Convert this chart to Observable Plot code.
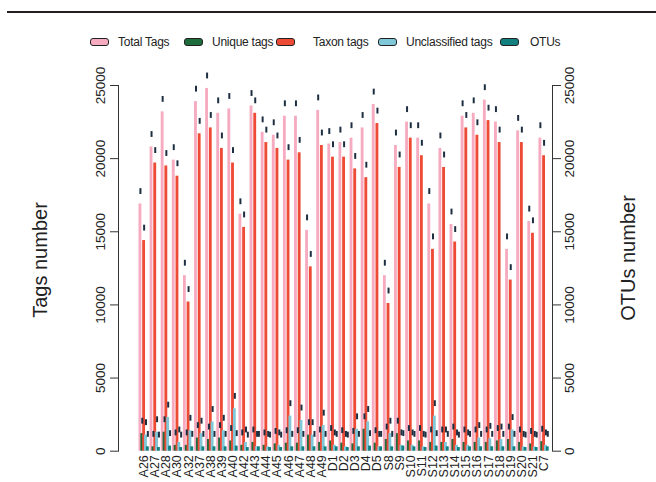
<!DOCTYPE html>
<html><head><meta charset="utf-8">
<script src="https://cdn.jsdelivr.net/npm/d3@7"></script>
<script src="https://cdn.jsdelivr.net/npm/@observablehq/plot@0.6"></script>
<style>
body{margin:0;background:#fff;font-family:"Liberation Sans",Arial,sans-serif;}
#wrap{position:relative;width:656px;height:482px;overflow:hidden;background:#fff;}
#chart{position:absolute;left:0;top:0;}
.toprule{position:absolute;left:7px;top:11px;width:649px;height:2px;background:#231f20;}
.leg{position:absolute;top:35px;height:14px;display:flex;align-items:center;font-size:12px;letter-spacing:-0.25px;color:#222;white-space:nowrap;}
.sw{position:absolute;top:38px;width:17px;height:6px;border:1.5px solid #222;border-radius:3px;}
.ytitle{position:absolute;font-size:20px;color:#222;white-space:nowrap;transform:translate(-50%,-50%) rotate(-90deg);}
</style></head><body>
<div id="wrap">
  <div class="toprule"></div>
  <div id="chart"></div>
  <div class="ytitle" style="left:40px;top:260px;">Tags number</div>
  <div class="ytitle" style="left:628px;top:258px;">OTUs number</div>
</div>
<script>
const samples = ["A26","A27","A28","A30","A32","A37","A38","A39","A40","A42","A43","A44","A45","A46","A47","A48","A49","D1","D2","D3","D4","D5","S8","S9","S10","S11","S12","S13","S14","S15","S16","S17","S18","S19","S20","S21","C7"];
const seriesNames = ["Total Tags","Unique tags","Taxon tags","Unclassified tags","OTUs"];
const seriesColors = ["#f6abc0","#1e6b3c","#ee4b36","#80c8d8","#12807e"];
const totalTags = [16900,20800,23200,19900,12000,23900,24800,23100,23400,16200,23600,21800,21600,22900,22900,15100,23300,21000,21100,21400,22100,23700,12000,20900,22500,21400,16900,20700,15500,22900,23100,24000,22500,13800,21900,15700,21400];
const uniqueTags = [1200,300,1300,400,400,900,800,900,700,400,600,400,500,550,550,1100,600,700,550,500,1500,550,800,1200,700,700,600,600,800,600,600,600,700,800,600,500,650];
const taxonTags = [14400,19700,19500,18800,10200,21700,22100,20700,19700,15300,23100,21100,20700,19900,20400,12600,20900,20100,20100,19300,18700,22400,10100,19400,21400,20200,13800,19400,14300,22100,21600,22600,21100,11700,21100,14900,20200];
const unclassifiedTags = [1100,1300,2300,600,1400,1200,2000,1400,2900,600,300,300,400,2400,2100,1100,1750,400,300,1500,2000,300,1200,400,400,300,2400,600,400,400,900,850,800,1450,300,300,400];
const otus = [300,250,350,250,300,300,300,300,350,250,300,250,250,300,300,300,300,300,250,300,350,300,300,350,300,250,350,300,250,300,300,300,300,300,250,250,300];
const yTicks = [0,5000,10000,15000,20000,25000];

const seriesValues = [totalTags, uniqueTags, taxonTags, unclassifiedTags, otus];
const rows = [];
samples.forEach((s, i) => seriesNames.forEach((n, k) => rows.push({sample: s, series: n, value: seriesValues[k][i]})));

const W = 656, H = 482;
const chart = Plot.plot({
  width: W, height: H,
  marginLeft: 139, marginRight: 107.8, marginTop: 85, marginBottom: 31.3,
  style: {fontFamily: "'Liberation Sans', Arial, sans-serif", color: "#222", background: "transparent"},
  fx: {domain: samples, paddingInner: 0.167, paddingOuter: 0, round: false, axis: null, label: null},
  x: {domain: seriesNames, padding: 0, round: false, axis: null},
  y: {domain: [0, 25000], axis: null},
  color: {domain: seriesNames, range: seriesColors},
  marks: [
    Plot.barY(rows, {fx: "sample", x: "series", y: "value", fill: "series", insetLeft: -0.5, insetRight: -0.5}),
    Plot.ruleX(rows, {fx: "sample", x: "series", y1: d => d.value + 650, y2: d => d.value + 1050, stroke: "#1c2e40", strokeWidth: 2}),
    Plot.frame({anchor: "left", dx: -21, facetAnchor: "left", stroke: "#333"}),
    Plot.frame({anchor: "right", dx: 3.8, facetAnchor: "right", stroke: "#333"}),
    Plot.axisY({anchor: "left", ticks: yTicks, tickFormat: d => String(d), tickSize: 8, tickPadding: 6, tickRotate: -90, fontSize: 13.5, dx: -21, label: null, stroke: "#333", fill: "#222"}),
    Plot.axisY({anchor: "right", ticks: yTicks, tickFormat: d => String(d), tickSize: 8, tickPadding: 4, tickRotate: -90, lineAnchor: "top", fontSize: 13.5, dx: 3.8, label: null, stroke: "#333", fill: "#222"}),
    Plot.axisFx({anchor: "bottom", tickSize: 0, tickPadding: 4, tickRotate: -90, fontSize: 12.5, label: null, fill: "#222"})
  ]
});
document.getElementById("chart").appendChild(chart);

// legend
const wrap = document.getElementById("wrap");
const legPos = [[90,118],[184,212],[276,313],[378,406],[500,530]];
seriesNames.forEach((n, k) => {
  const sw = document.createElement("div");
  sw.className = "sw";
  sw.style.left = legPos[k][0] + "px";
  sw.style.background = seriesColors[k];
  wrap.appendChild(sw);
  const t = document.createElement("div");
  t.className = "leg";
  t.style.left = legPos[k][1] + "px";
  t.textContent = n;
  wrap.appendChild(t);
});
</script>
</body></html>
